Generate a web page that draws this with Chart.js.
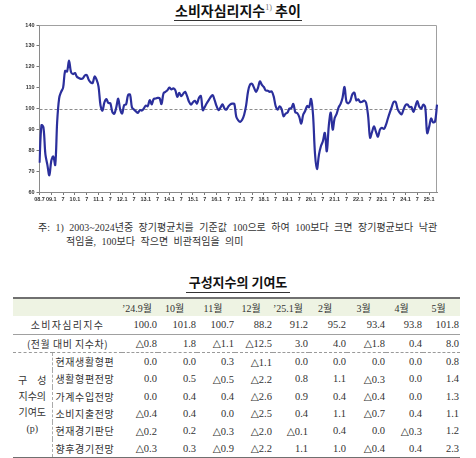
<!DOCTYPE html>
<html>
<head>
<meta charset="utf-8">
<script src="https://cdn.jsdelivr.net/npm/chart.js@4/dist/chart.umd.min.js"></script>
<style>
  html, body { margin:0; padding:0; }
  body { width:476px; height:458px; background:#fff; position:relative; overflow:hidden;
         font-family:"Liberation Serif","DejaVu Serif","Noto Sans CJK KR",serif; color:#2a2a2a; }
  #title { position:absolute; left:0; top:2px; width:476px; text-align:center;
           font-family:"Noto Sans CJK KR",sans-serif; font-weight:bold; font-size:14px; line-height:17px; color:#111; }
  #title .u { border-bottom:1.5px solid #333; padding:0 1px 0 1px; }
  #title sup { font-family:"Liberation Serif",serif; font-weight:normal; font-size:8px; color:#777; vertical-align:6px; line-height:0; }
  #chartBox { position:absolute; left:0; top:0; width:476px; height:205px; }
  #note { position:absolute; left:38px; top:221px; font-size:10px; line-height:14px; white-space:nowrap; color:#333; word-spacing:3px; }
  #note .l2 { padding-left:28px; }
  #sub { position:absolute; left:0; top:274px; width:476px; text-align:center;
         font-family:"Noto Sans CJK KR",sans-serif; font-weight:bold; font-size:13px; line-height:15px; color:#111; }
  #sub .u { border-bottom:1.5px solid #333; padding:0 3px 1px 3px; }
  #tbl { position:absolute; left:13px; top:297px; width:447px; border-collapse:collapse; table-layout:fixed;
         font-size:10.5px; color:#333; }
  #tbl td { height:17.3px; padding:0; white-space:nowrap; vertical-align:middle; }
  #tbl tr.hdr td { background:#eef3e3; border-top:2px solid #707070; }
  #tbl td.v { text-align:right; padding-right:1px; }
  #tbl tr.hdr td.v { text-align:center; padding-right:6px; font-size:10px; }
  #tbl tr.main td { border-bottom:1px solid #a0a0a0; }
  #tbl tr.diff td { border-bottom:1px dashed #9a9a9a; }
  #tbl tr.last td { border-bottom:1.5px solid #707070; }
  #tbl td.lab2 { text-align:center; font-family:"Noto Sans CJK KR",sans-serif; font-size:10px; letter-spacing:1.3px; }
  #tbl td.grp { text-align:center; font-family:"Noto Sans CJK KR",sans-serif; font-size:10px; line-height:16px;
                border-right:1px dashed #aaa; border-bottom:1.5px solid #707070; }
  #tbl td.item { font-family:"Noto Sans CJK KR",sans-serif; font-size:10px; letter-spacing:0.6px; padding-left:3px; }
</style>
</head>
<body>
<div id="title"><span class="u">소비자심리지수<sup>1)</sup> 추이</span></div>
<div id="chartBox"><canvas id="c" width="476" height="205"></canvas></div>
<div id="note">주: 1) 2003~2024년중 장기평균치를 기준값 100으로 하여 100보다 크면 장기평균보다 낙관<br><span class="l2">적임을, 100보다 작으면 비관적임을 의미</span></div>
<div id="sub"><span class="u">구성지수의 기여도</span></div>
<table id="tbl"></table>
<script>
// ---------- chart data (consumer sentiment index, monthly, 2008.7 - 2025.5) ----------
const YEARS_SHORT = ['08','09','10','11','12','13','14','15','16','17','18','19','20','21','22','23','24','25'];
const START_MONTH = 7;
const csi2008 = [74, 92, 91, 78, 73, 68];
const csi2009 = [75, 77, 73, 94, 105, 108, 110, 118, 117.7, 123, 117.5, 116.5];
const csi2010 = [117, 115.2, 114.6, 114.2, 114.4, 115.8, 116, 113.8, 112.5, 112.2, 115.3, 113.8];
const csi2011 = [110.5, 101.5, 99, 103, 104.5, 102.6, 102.5, 98.4, 97.5, 100.5, 104.7, 99.5];
const csi2012 = [97.6, 101.6, 102, 106.4, 106.7, 100.5, 99.5, 98.6, 97.9, 99.2, 99, 100];
const csi2013 = [101.4, 101.1, 104, 102, 104.5, 104.8, 105.1, 105, 102.1, 107.2, 108, 108.8];
const csi2014 = [110, 109.1, 109.6, 108.8, 105.6, 107.5, 105.9, 107, 108, 105.9, 103.2, 101.9];
const csi2015 = [103, 103.7, 102.4, 105, 106, 99.2, 100.8, 102.5, 104, 105.5, 106.4, 104];
const csi2016 = [101.1, 99.2, 100.5, 102, 100, 99.5, 101, 102, 102.3, 102.2, 96, 94.3];
const csi2017 = [93.6, 94.6, 97, 101.5, 108.3, 111.5, 111.8, 110, 108, 109.8, 113, 111.3];
const csi2018 = [110.3, 108.6, 108.5, 108, 108.2, 105.8, 101.2, 99.5, 101, 99.8, 96.3, 97.5];
const csi2019 = [98, 100, 100.2, 102.2, 98.2, 97.8, 96, 92.8, 97, 98.8, 101.2, 100.6];
const csi2020 = [104.6, 97, 78.4, 71, 77.8, 81.9, 84.3, 88.3, 79.5, 91.6, 98, 89.9];
const csi2021 = [95.4, 97.4, 100.5, 102.2, 105.2, 110.3, 103.2, 102.5, 103.8, 106.8, 107.6, 103.9];
const csi2022 = [104.4, 103.1, 103.2, 103.8, 102.6, 96.4, 86.0, 88.8, 91.4, 88.8, 86.5, 89.9];
const csi2023 = [90.7, 90.2, 92.0, 95.1, 98.0, 100.7, 103.2, 103.1, 99.7, 98.1, 97.2, 99.5];
const csi2024 = [101.6, 101.9, 100.7, 100.7, 98.4, 100.9, 103.6, 100.8, 100.0, 101.8, 100.7, 88.2];
const csi2025 = [91.2, 95.2, 93.4, 93.8, 101.8];
const TICK_LABELS = ['08.7','09.1','7','10.1','7','11.1','7','12.1','7','13.1','7','14.1','7','15.1','7','16.1','7',
                     '17.1','7','18.1','7','19.1','7','20.1','7','21.1','7','22.1','7','23.1','7','24.1','7','25.1'];
const TICK_EVERY = 6;
const BASELINE = 100;
const Y_MIN = 60, Y_MAX = 140, Y_STEP = 10;

// ---------- table data ----------
const TABLE_COLS = ['’24.9월','10월','11월','12월','’25.1월','2월','3월','4월','5월'];
const CSI_LEVEL = [100.0, 101.8, 100.7, 88.2, 91.2, 95.2, 93.4, 93.8, 101.8];
const CSI_DIFF = [-0.8, 1.8, -1.1, -12.5, 3.0, 4.0, -1.8, 0.4, 8.0];
const COMPONENT_NAMES = ['현재생활형편','생활형편전망','가계수입전망','소비지출전망','현재경기판단','향후경기전망'];
const C_CURRENT_LIVING = [0.0, 0.0, 0.3, -1.1, 0.0, 0.0, 0.0, 0.0, 0.8];
const C_LIVING_OUTLOOK = [0.0, 0.5, -0.5, -2.2, 0.8, 1.1, -0.3, 0.0, 1.4];
const C_INCOME_OUTLOOK = [0.0, 0.4, 0.4, -2.6, 0.9, 0.4, -0.4, 0.0, 1.3];
const C_SPENDING_OUTLOOK = [-0.4, 0.4, 0.0, -2.5, 0.4, 1.1, -0.7, 0.4, 1.1];
const C_CURRENT_ECON = [-0.2, 0.2, -0.3, -2.0, -0.1, 0.4, 0.0, -0.3, 1.2];
const C_FUTURE_ECON = [-0.3, 0.3, -0.9, -2.2, 1.1, 1.0, -0.4, 0.4, 2.3];

// ---------- build series ----------
const CSI_BY_YEAR = [csi2008, csi2009, csi2010, csi2011, csi2012, csi2013, csi2014, csi2015, csi2016,
                     csi2017, csi2018, csi2019, csi2020, csi2021, csi2022, csi2023, csi2024, csi2025];
const CSI = [].concat(...CSI_BY_YEAR);
const CATEGORIES = [];
CSI_BY_YEAR.forEach((arr, yi) => {
  const m0 = yi === 0 ? START_MONTH : 1;
  arr.forEach((v, k) => CATEGORIES.push(YEARS_SHORT[yi] + '.' + (m0 + k)));
});

const framePlugin = {
  id: 'frame',
  beforeDatasetsDraw(chart) {
    const { ctx, chartArea: a, scales } = chart;
    ctx.save();
    const yy = Math.round(scales.y.getPixelForValue(BASELINE)) + 0.5;
    ctx.strokeStyle = '#8c8c8c';
    ctx.lineWidth = 1;
    ctx.setLineDash([3, 2]);
    ctx.beginPath(); ctx.moveTo(a.left, yy); ctx.lineTo(a.right, yy); ctx.stroke();
    ctx.setLineDash([]);
    ctx.strokeStyle = '#a0a0a0';
    ctx.beginPath();
    ctx.moveTo(a.left, a.top + 0.5); ctx.lineTo(a.right - 0.5, a.top + 0.5); ctx.lineTo(a.right - 0.5, a.bottom);
    ctx.stroke();
    ctx.restore();
  }
};

const tickFont = { family: 'Liberation Sans', size: 5.5, weight: 'bold' };
new Chart(document.getElementById('c'), {
  type: 'line',
  data: {
    labels: CATEGORIES,
    datasets: [{ data: CSI, borderColor: '#2b2f9c', borderWidth: 2.2, pointRadius: 0, tension: 0.35, fill: false }]
  },
  options: {
    responsive: false, animation: false,
    layout: { padding: { top: 25, right: 39, left: 0, bottom: 0 } },
    plugins: { legend: { display: false }, tooltip: { enabled: false }, title: { display: false } },
    scales: {
      x: {
        type: 'category', offset: false,
        grid: { display: true, drawOnChartArea: false, drawTicks: true, tickLength: 3,
                tickColor: (c) => (c.index % TICK_EVERY === 0 ? '#777' : 'rgba(0,0,0,0)') },
        border: { display: true, color: '#8a8a8a' },
        ticks: { autoSkip: false, maxRotation: 0, minRotation: 0, padding: 1, font: tickFont, color: '#333',
                 callback: (v, i) => (i % TICK_EVERY === 0 ? TICK_LABELS[i / TICK_EVERY] : '') },
        afterFit: (s) => { s.height = 13; }
      },
      y: {
        min: Y_MIN, max: Y_MAX,
        ticks: { stepSize: Y_STEP, font: tickFont, color: '#333', padding: 2 },
        grid: { display: true, drawOnChartArea: false, tickLength: 3, tickColor: '#777' },
        border: { display: true, color: '#8a8a8a' },
        afterFit: (s) => { s.width = 39.5; }
      }
    }
  },
  plugins: [framePlugin]
});

// ---------- table ----------
const fmt = (v) => (v < 0 ? '△' + Math.abs(v).toFixed(1) : v.toFixed(1));
const COL_W = [39, 70, 36, 39, 38, 38, 36, 38, 39, 37, 37];
const tbl = document.getElementById('tbl');
let html = '<colgroup>' + COL_W.map(w => '<col style="width:' + w + 'px">').join('') + '</colgroup>';
html += '<tr class="hdr"><td colspan="2"></td>' + TABLE_COLS.map(c => '<td class="v">' + c + '</td>').join('') + '</tr>';
html += '<tr class="main"><td colspan="2" class="lab2">소비자심리지수</td>' + CSI_LEVEL.map(v => '<td class="v">' + v.toFixed(1) + '</td>').join('') + '</tr>';
html += '<tr class="diff"><td colspan="2" class="lab2" style="letter-spacing:0.5px">(전월 대비 지수차)</td>' + CSI_DIFF.map(v => '<td class="v">' + fmt(v) + '</td>').join('') + '</tr>';
const COMPONENTS = [C_CURRENT_LIVING, C_LIVING_OUTLOOK, C_INCOME_OUTLOOK, C_SPENDING_OUTLOOK, C_CURRENT_ECON, C_FUTURE_ECON];
COMPONENTS.forEach((row, r) => {
  html += '<tr' + (r === COMPONENTS.length - 1 ? ' class="last"' : '') + '>';
  if (r === 0) html += '<td class="grp" rowspan="' + COMPONENTS.length + '">구　성<br>지수의<br>기여도<br><span style="font-family:Liberation Serif">(p)</span></td>';
  html += '<td class="item">' + COMPONENT_NAMES[r] + '</td>' + row.map(v => '<td class="v">' + fmt(v) + '</td>').join('') + '</tr>';
});
tbl.innerHTML = html;
</script>
</body>
</html>
